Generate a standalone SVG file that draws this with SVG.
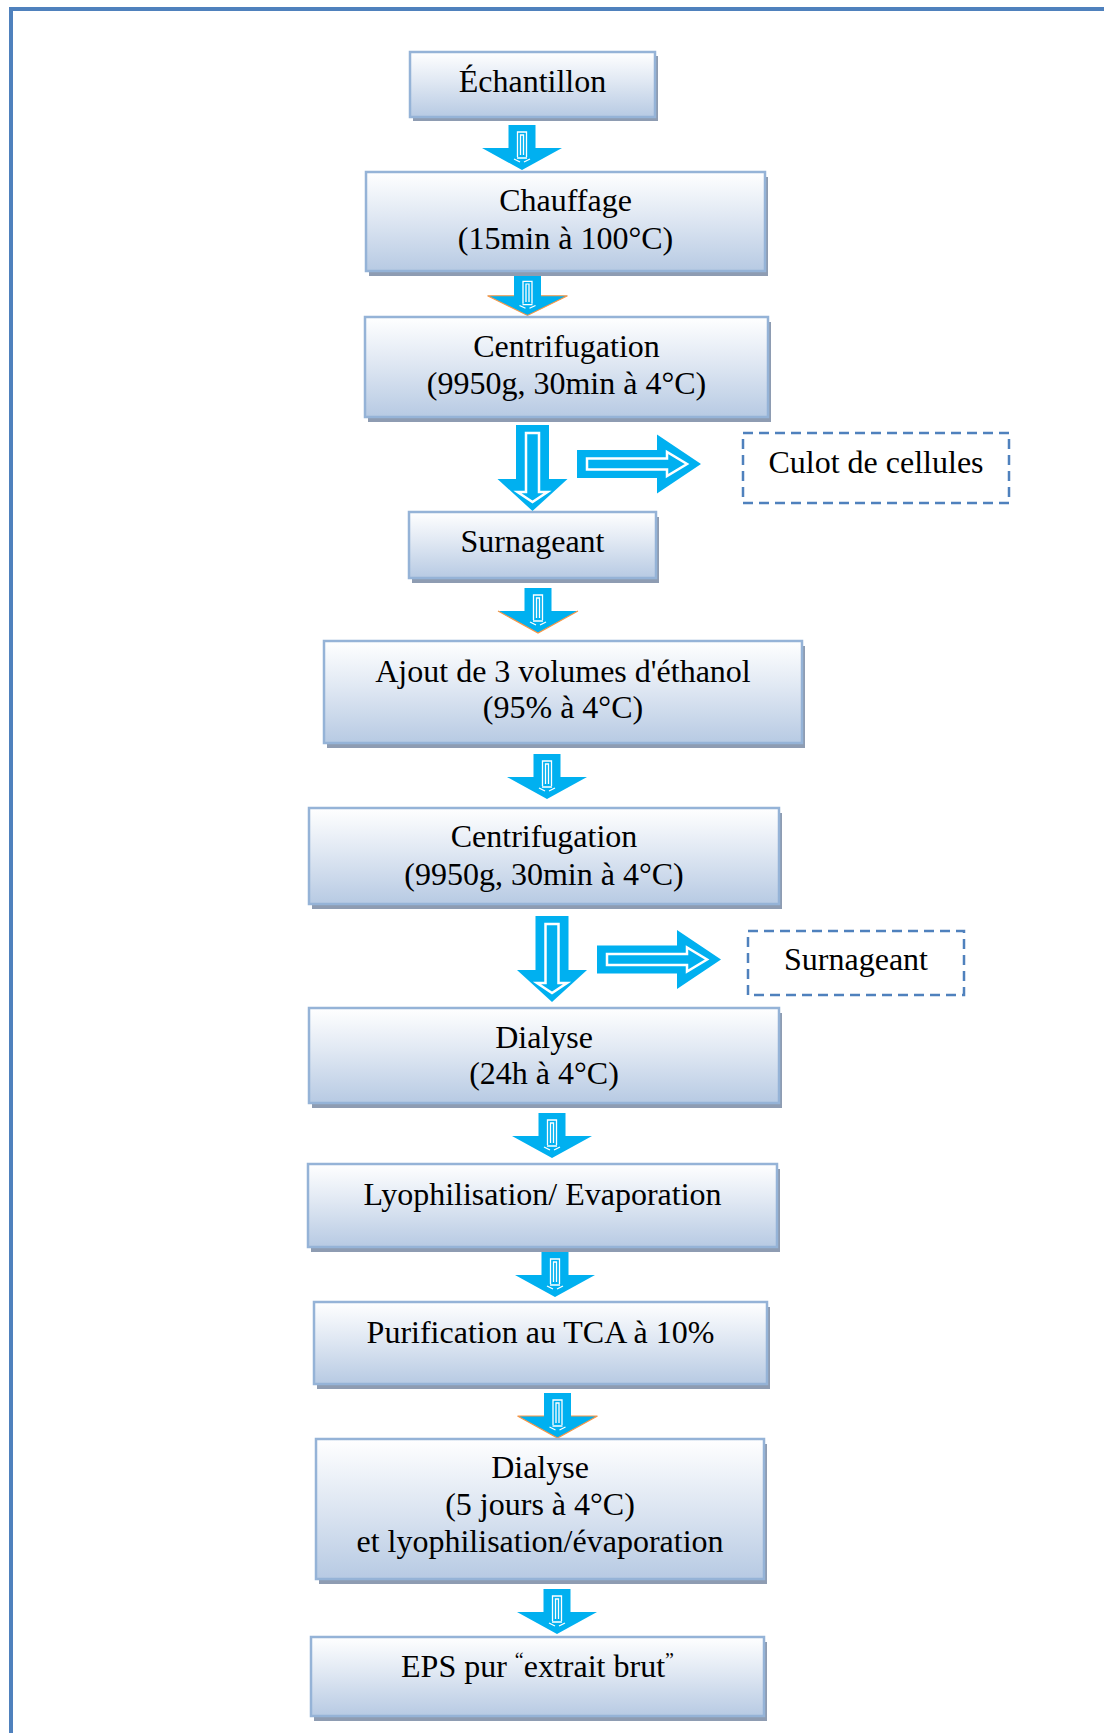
<svg xmlns="http://www.w3.org/2000/svg" xmlns:xlink="http://www.w3.org/1999/xlink" width="1104" height="1733" viewBox="0 0 1104 1733">
<defs>
<linearGradient id="boxfill" x1="0" y1="0" x2="0" y2="1">
<stop offset="0" stop-color="#FFFFFF"/>
<stop offset="0.45" stop-color="#E0E8F3"/>
<stop offset="1" stop-color="#B7CAE3"/>
</linearGradient>
<g id="smallArrow">
<path d="M-13.5,0 H13.5 V23 H40 L0,45 L-40,23 H-13.5 Z" fill="#00B0F0"/>
<path d="M-4.5,32 V7 H4.5 V32 M-1.5,30 V10 H1.5 V30 M-8,34 L-2,37 M8,34 L2,37 M-5,33 H5" fill="none" stroke="#FFFFFF" stroke-width="1.3"/>
</g>
<g id="bigDown">
<path d="M-16.5,0 H16.5 V54 H35 L0,86 L-35,54 H-16.5 Z" fill="#00B0F0"/>
<path d="M-6.5,8 H6.5 V67 H15 L0,77 L-15,67 H-6.5 Z" fill="none" stroke="#FFFFFF" stroke-width="2.5"/>
</g>
<g id="bigRight">
<path d="M0,-14 H80 V-29.5 L124,0 L80,29.5 V14 H0 Z" fill="#00B0F0"/>
<path d="M10,-5.5 H90 V-12 L110,0 L90,12 V5.5 H10 Z" fill="none" stroke="#FFFFFF" stroke-width="2.5"/>
</g>
</defs>
<style>
.shadow { fill: #8E9CB2; }
.box { fill: url(#boxfill); stroke: #95B3D7; stroke-width: 2.5; }
.dash { fill: #FFFFFF; stroke: #4F81BD; stroke-width: 2.5; stroke-dasharray: 10 6; }
.t { font-family: "Liberation Serif", "Times New Roman", serif; font-size: 32px; fill: #000000; text-anchor: middle; }
.frame { stroke: #4F81BD; stroke-width: 4; fill: none; }
.orange { fill: none; stroke: #F79646; stroke-width: 1.2; }
</style>
<rect x="0" y="0" width="1104" height="1733" fill="#FFFFFF"/>
<path class="frame" d="M11,1733 V9 H1104"/>

<g id="connectors">
<use xlink:href="#smallArrow" transform="translate(522,125)"/>
<g transform="translate(527.5,275) scale(1,0.9)">
<use xlink:href="#smallArrow"/>
<path class="orange" d="M-40,23 H-13.5 M13.5,23 H40 M-40,23 L0,45 L40,23"/>
</g>
<use xlink:href="#bigDown" transform="translate(532.5,425)"/>
<use xlink:href="#bigRight" transform="translate(577,464)"/>
<g transform="translate(538,588)">
<use xlink:href="#smallArrow"/>
<path class="orange" d="M-40,23 L0,45 L40,23"/>
</g>
<use xlink:href="#smallArrow" transform="translate(547,754)"/>
<use xlink:href="#bigDown" transform="translate(552,916)"/>
<use xlink:href="#bigRight" transform="translate(597,959.5)"/>
<use xlink:href="#smallArrow" transform="translate(552,1113)"/>
<use xlink:href="#smallArrow" transform="translate(555,1252)"/>
<g transform="translate(557.5,1393)">
<use xlink:href="#smallArrow"/>
<path class="orange" d="M-40,23 H-13.5 M13.5,23 H40 M-40,23 L0,45 L40,23"/>
</g>
<use xlink:href="#smallArrow" transform="translate(557,1589)"/>
</g>

<g id="n-echantillon">
<rect class="shadow" x="413" y="56" width="245" height="65"/>
<rect class="box" x="410" y="52" width="245" height="65"/>
<text class="t" x="532.5" y="92">Échantillon</text>
</g>
<g id="n-chauffage">
<rect class="shadow" x="369" y="177" width="399" height="99"/>
<rect class="box" x="366" y="172" width="399" height="99"/>
<text class="t" x="565.5" y="211">Chauffage</text>
<text class="t" x="565.5" y="249">(15min à 100°C)</text>
</g>
<g id="n-centrifugation1">
<rect class="shadow" x="368" y="322" width="403" height="100"/>
<rect class="box" x="365" y="317" width="403" height="100"/>
<text class="t" x="566.5" y="357">Centrifugation</text>
<text class="t" x="566.5" y="394">(9950g, 30min à 4°C)</text>
</g>
<g id="n-culot">
<rect class="dash" x="743" y="433" width="266" height="70"/>
<text class="t" x="876" y="473">Culot de cellules</text>
</g>
<g id="n-surnageant1">
<rect class="shadow" x="412" y="517" width="247" height="66"/>
<rect class="box" x="409" y="512" width="247" height="66"/>
<text class="t" x="532.5" y="552">Surnageant</text>
</g>
<g id="n-ajout">
<rect class="shadow" x="327" y="646" width="478" height="102"/>
<rect class="box" x="324" y="641" width="478" height="102"/>
<text class="t" x="563" y="682">Ajout de 3 volumes d'éthanol</text>
<text class="t" x="563" y="718">(95% à 4°C)</text>
</g>
<g id="n-centrifugation2">
<rect class="shadow" x="312" y="813" width="470" height="96"/>
<rect class="box" x="309" y="808" width="470" height="96"/>
<text class="t" x="544" y="847">Centrifugation</text>
<text class="t" x="544" y="885">(9950g, 30min à 4°C)</text>
</g>
<g id="n-surnageant2">
<rect class="dash" x="748" y="931" width="216" height="64"/>
<text class="t" x="856" y="970">Surnageant</text>
</g>
<g id="n-dialyse1">
<rect class="shadow" x="312" y="1013" width="470" height="95"/>
<rect class="box" x="309" y="1008" width="470" height="95"/>
<text class="t" x="544" y="1048">Dialyse</text>
<text class="t" x="544" y="1084">(24h à 4°C)</text>
</g>
<g id="n-lyophilisation">
<rect class="shadow" x="311" y="1169" width="469" height="83"/>
<rect class="box" x="308" y="1164" width="469" height="83"/>
<text class="t" x="542.5" y="1205">Lyophilisation/ Evaporation</text>
</g>
<g id="n-purification">
<rect class="shadow" x="317" y="1307" width="453" height="82"/>
<rect class="box" x="314" y="1302" width="453" height="82"/>
<text class="t" x="540.5" y="1343">Purification au TCA à 10%</text>
</g>
<g id="n-dialyse2">
<rect class="shadow" x="319" y="1444" width="448" height="140"/>
<rect class="box" x="316" y="1439" width="448" height="140"/>
<text class="t" x="540" y="1478">Dialyse</text>
<text class="t" x="540" y="1515">(5 jours à 4°C)</text>
<text class="t" x="540" y="1552">et lyophilisation/évaporation</text>
</g>
<g id="n-eps">
<rect class="shadow" x="314" y="1642" width="453" height="79"/>
<rect class="box" x="311" y="1637" width="453" height="79"/>
<text class="t" x="537.5" y="1677">EPS pur <tspan font-size="20" dy="-10">“</tspan><tspan dy="10">extrait brut</tspan><tspan font-size="20" dy="-10">”</tspan></text>
</g>
</svg>
